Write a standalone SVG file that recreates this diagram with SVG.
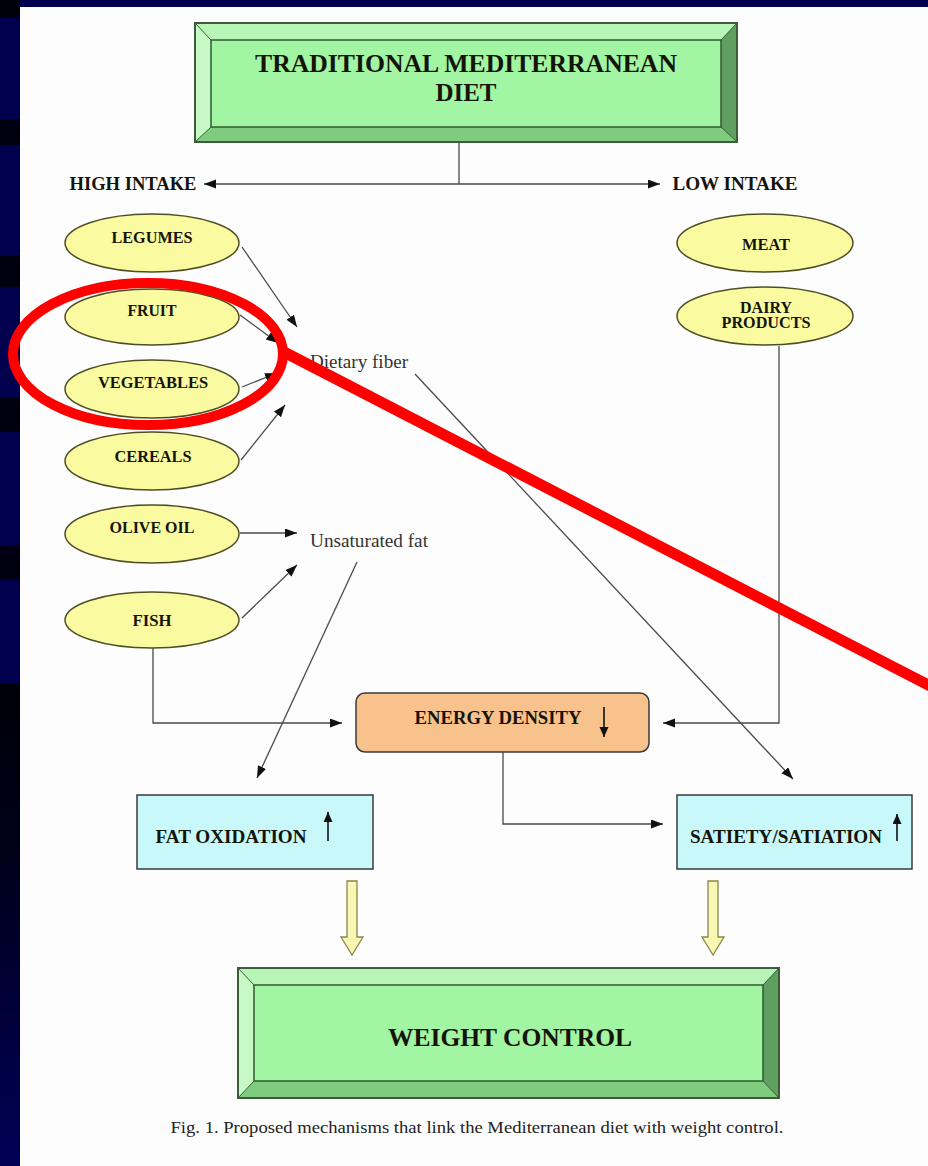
<svg xmlns="http://www.w3.org/2000/svg" width="928" height="1166" viewBox="0 0 928 1166">
<defs>
<linearGradient id="stripLow" x1="0" y1="0" x2="0" y2="1">
<stop offset="0" stop-color="#000008"/>
<stop offset="0.35" stop-color="#00001a"/>
<stop offset="1" stop-color="#000058"/>
</linearGradient>
<marker id="ah" markerUnits="userSpaceOnUse" markerWidth="13" markerHeight="10" refX="12" refY="4.5" orient="auto-start-reverse">
<path d="M0,0 L12,4.5 L0,9 z" fill="#111"/>
</marker>
<marker id="sa" markerUnits="userSpaceOnUse" markerWidth="11" markerHeight="11" refX="10" refY="4.5" orient="auto">
<path d="M0,0 L10,4.5 L0,9 z" fill="#111"/>
</marker>
</defs>
<style>
.lbl{font-family:"Liberation Serif","Times New Roman",serif;font-weight:bold;fill:#141408;text-anchor:middle}
.el{fill:#fafaa0;stroke:#4e4e24;stroke-width:1.5}
.con{fill:none;stroke:#4a4a4a;stroke-width:1.3}
.bx{stroke:#3a3a3a;stroke-width:1.5}
.plain{font-family:"Liberation Serif","Times New Roman",serif;fill:#333;font-size:18px}
.blk{fill:#f8f8b4;stroke:#86864c;stroke-width:1.3}
.bev{stroke:none}
</style>
<!-- background -->
<rect x="0" y="0" width="928" height="1166" fill="#00004e"/>
<rect x="0" y="0" width="20" height="18" fill="#000008"/>
<rect x="0" y="119" width="20" height="26" fill="#000010"/>
<rect x="0" y="255" width="20" height="32" fill="#000010"/>
<rect x="0" y="397" width="20" height="35" fill="#000010"/>
<rect x="0" y="546" width="20" height="34" fill="#000010"/>
<rect x="0" y="684" width="20" height="482" fill="url(#stripLow)"/>
<rect x="20" y="7" width="908" height="1159" fill="#fdfdfd"/>

<!-- top node -->
<g id="diet">
<rect x="195" y="23" width="542" height="119" fill="#a2f5a2"/>
<polygon class="bev" points="195,23 737,23 721,40 211,40" fill="#b8f6b8"/>
<polygon class="bev" points="195,23 211,40 211,127 195,142" fill="#c6f9c6"/>
<polygon class="bev" points="737,23 737,142 721,127 721,40" fill="#5f9f5f"/>
<polygon class="bev" points="195,142 211,127 721,127 737,142" fill="#7fcc7f"/>
<rect x="211" y="40" width="510" height="87" fill="#a2f5a2" stroke="#2f5a2f" stroke-width="1.5"/>
<rect x="195" y="23" width="542" height="119" fill="none" stroke="#3c5c3c" stroke-width="2"/>
<line x1="195" y1="23" x2="211" y2="40" stroke="#3c5c3c"/>
<line x1="737" y1="23" x2="721" y2="40" stroke="#3c5c3c"/>
<line x1="195" y1="142" x2="211" y2="127" stroke="#3c5c3c"/>
<line x1="737" y1="142" x2="721" y2="127" stroke="#3c5c3c"/>
<text class="lbl" x="466" y="72" font-size="26" textLength="422" lengthAdjust="spacingAndGlyphs" fill="#142814">TRADITIONAL MEDITERRANEAN</text>
<text class="lbl" x="466" y="101" font-size="26" textLength="61" lengthAdjust="spacingAndGlyphs">DIET</text>
</g>

<g id="high-intake"><text class="lbl" x="133" y="190" font-size="18" textLength="127" lengthAdjust="spacingAndGlyphs">HIGH INTAKE</text></g>
<g id="low-intake"><text class="lbl" x="735" y="190" font-size="18" textLength="125" lengthAdjust="spacingAndGlyphs">LOW INTAKE</text></g>

<g id="legumes"><ellipse class="el" cx="152" cy="243" rx="87" ry="29"/><text class="lbl" x="152" y="243" font-size="16" textLength="81" lengthAdjust="spacingAndGlyphs">LEGUMES</text></g>
<g id="fruit"><ellipse class="el" cx="152" cy="317" rx="87" ry="28"/><text class="lbl" x="152" y="316" font-size="16" textLength="49" lengthAdjust="spacingAndGlyphs">FRUIT</text></g>
<g id="vegetables"><ellipse class="el" cx="152" cy="389" rx="87" ry="29"/><text class="lbl" x="153" y="388" font-size="16" textLength="110" lengthAdjust="spacingAndGlyphs">VEGETABLES</text></g>
<g id="cereals"><ellipse class="el" cx="152" cy="461" rx="87" ry="29"/><text class="lbl" x="153" y="462" font-size="16" textLength="77" lengthAdjust="spacingAndGlyphs">CEREALS</text></g>
<g id="olive-oil"><ellipse class="el" cx="152" cy="534" rx="87" ry="29"/><text class="lbl" x="152" y="533" font-size="16" textLength="85" lengthAdjust="spacingAndGlyphs">OLIVE OIL</text></g>
<g id="fish"><ellipse class="el" cx="152" cy="620" rx="87" ry="28"/><text class="lbl" x="152" y="626" font-size="16" textLength="39" lengthAdjust="spacingAndGlyphs">FISH</text></g>

<g id="meat"><ellipse class="el" cx="765" cy="243" rx="88" ry="29"/><text class="lbl" x="766" y="250" font-size="16" textLength="48" lengthAdjust="spacingAndGlyphs">MEAT</text></g>
<g id="dairy"><ellipse class="el" cx="765" cy="316" rx="88" ry="29"/><text class="lbl" x="766" y="313" font-size="16" textLength="52" lengthAdjust="spacingAndGlyphs">DAIRY</text><text class="lbl" x="766" y="328" font-size="16" textLength="89" lengthAdjust="spacingAndGlyphs">PRODUCTS</text></g>

<g id="dietary-fiber"><text class="plain" x="310" y="368" textLength="98" lengthAdjust="spacingAndGlyphs">Dietary fiber</text></g>
<g id="unsaturated-fat"><text class="plain" x="310" y="547" textLength="118" lengthAdjust="spacingAndGlyphs">Unsaturated fat</text></g>

<g id="energy-density">
<rect class="bx" x="356" y="693" width="293" height="59" rx="9" fill="#f8c28c"/>
<text class="lbl" x="498" y="724" font-size="18" textLength="167" lengthAdjust="spacingAndGlyphs">ENERGY DENSITY</text>
<line x1="604" y1="707" x2="604" y2="737" stroke="#111" stroke-width="1.6" marker-end="url(#sa)"/>
</g>
<g id="fat-oxidation">
<rect class="bx" x="137" y="795" width="236" height="74" fill="#c8f8fa"/>
<text class="lbl" x="231" y="843" font-size="18" textLength="151" lengthAdjust="spacingAndGlyphs">FAT OXIDATION</text>
<line x1="328" y1="841" x2="328" y2="812" stroke="#111" stroke-width="1.6" marker-end="url(#sa)"/>
</g>
<g id="satiety">
<rect class="bx" x="677" y="795" width="235" height="74" fill="#c8f8fa"/>
<text class="lbl" x="786" y="843" font-size="18" textLength="192" lengthAdjust="spacingAndGlyphs">SATIETY/SATIATION</text>
<line x1="897" y1="841" x2="897" y2="814" stroke="#111" stroke-width="1.6" marker-end="url(#sa)"/>
</g>

<g id="weight-control">
<rect x="238" y="968" width="541" height="130" fill="#a2f5a2"/>
<polygon class="bev" points="238,968 779,968 763,985 254,985" fill="#b8f6b8"/>
<polygon class="bev" points="238,968 254,985 254,1081 238,1098" fill="#c6f9c6"/>
<polygon class="bev" points="779,968 779,1098 763,1081 763,985" fill="#5f9f5f"/>
<polygon class="bev" points="238,1098 254,1081 763,1081 779,1098" fill="#7fcc7f"/>
<rect x="254" y="985" width="509" height="96" fill="#a2f5a2" stroke="#2f5a2f" stroke-width="1.5"/>
<rect x="238" y="968" width="541" height="130" fill="none" stroke="#3c5c3c" stroke-width="2"/>
<line x1="238" y1="968" x2="254" y2="985" stroke="#3c5c3c"/>
<line x1="779" y1="968" x2="763" y2="985" stroke="#3c5c3c"/>
<line x1="238" y1="1098" x2="254" y2="1081" stroke="#3c5c3c"/>
<line x1="779" y1="1098" x2="763" y2="1081" stroke="#3c5c3c"/>
<text class="lbl" x="510" y="1046" font-size="26" textLength="244" lengthAdjust="spacingAndGlyphs" fill="#142814">WEIGHT CONTROL</text>
</g>

<g id="connectors">
<line class="con" x1="459" y1="142" x2="459" y2="184"/>
<line class="con" x1="204" y1="184" x2="660" y2="184" marker-start="url(#ah)" marker-end="url(#ah)"/>
<line class="con" x1="242" y1="247" x2="297" y2="327" marker-end="url(#ah)"/>
<line class="con" x1="240" y1="315" x2="278" y2="343" marker-end="url(#ah)"/>
<line class="con" x1="242" y1="387" x2="277" y2="373" marker-end="url(#ah)"/>
<line class="con" x1="241" y1="460" x2="285" y2="405" marker-end="url(#ah)"/>
<line class="con" x1="240" y1="533" x2="297" y2="533" marker-end="url(#ah)"/>
<line class="con" x1="242" y1="618" x2="297" y2="565" marker-end="url(#ah)"/>
<line class="con" x1="415" y1="374" x2="793" y2="779" marker-end="url(#ah)"/>
<line class="con" x1="357" y1="562" x2="257" y2="778" marker-end="url(#ah)"/>
<polyline class="con" points="153,648 153,723 342,723" marker-end="url(#ah)"/>
<polyline class="con" points="779,346 779,723 663,723" marker-end="url(#ah)"/>
<polyline class="con" points="503,752 503,824 663,824" marker-end="url(#ah)"/>
<path class="blk" d="M347,881 H357 V937 H363 L352,955 L341,937 H347 Z"/>
<path class="blk" d="M708,881 H718 V937 H724 L713,955 L702,937 H708 Z"/>
</g>

<g id="caption"><text x="477" y="1133" font-family="'Liberation Serif','Times New Roman',serif" font-size="16" fill="#222" text-anchor="middle" textLength="613" lengthAdjust="spacingAndGlyphs">Fig. 1. Proposed mechanisms that link the Mediterranean diet with weight control.</text></g>

<g id="highlight">
<ellipse cx="148" cy="354" rx="135" ry="71" fill="none" stroke="#ff0000" stroke-width="10"/>
<line x1="284" y1="352" x2="934" y2="688" stroke="#ff0000" stroke-width="11"/>
</g>
</svg>
